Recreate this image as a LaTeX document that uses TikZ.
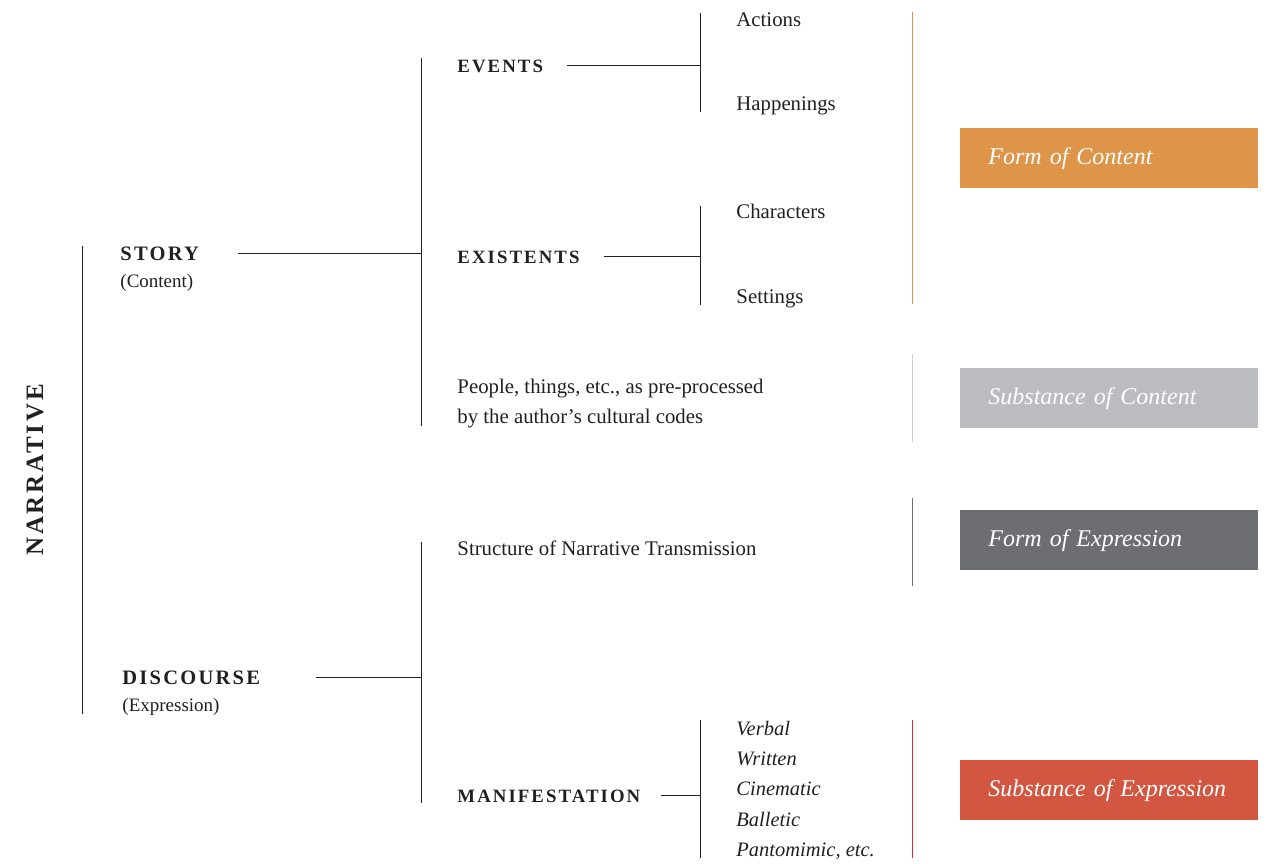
\documentclass[tikz,border=0pt]{standalone}
\usepackage{fontspec}
\setmainfont{Liberation Serif}
\newfontfamily\capsfont[LetterSpace=11]{Liberation Serif}

\definecolor{ink}{RGB}{35,31,32}
\definecolor{formcont}{RGB}{222,149,73}
\definecolor{substcont}{RGB}{187,188,191}
\definecolor{formexpr}{RGB}{109,110,113}
\definecolor{substexpr}{RGB}{211,86,65}
\definecolor{rulecont}{RGB}{224,144,64}
\definecolor{rulesubst}{RGB}{204,204,206}
\definecolor{ruleexpr}{RGB}{210,45,50}

\tikzset{
    txt/.style={anchor=base west, inner sep=0pt, text=ink, font=\fontsize{20.8}{30}\selectfont},
    itxt/.style={txt, font=\itshape\fontsize{20.5}{30}\selectfont},
    sub/.style={txt, font=\fontsize{19}{24}\selectfont},
    caps/.style={anchor=base west, inner sep=0pt, text=ink, font=\capsfont\bfseries\fontsize{18.8}{22}\selectfont},
    bigcaps/.style={caps, font=\capsfont\bfseries\fontsize{20.5}{24}\selectfont},
    plane/.style={anchor=north west, inner xsep=28pt, inner ysep=0pt, minimum height=60pt,
        text width=242pt, align=left, text=white, font=\itshape\fontsize{24}{28}\selectfont},
}

\begin{document}
\begin{tikzpicture}[x=1pt, y=-1pt, line width=0.9pt, draw=ink]
    \useasboundingbox (0,0) rectangle (1267,863);

    % left column
    \node [caps, font=\capsfont\bfseries\fontsize{25}{28}\selectfont, rotate=90, anchor=base] (narrative) at (43,470) {NARRATIVE};
    \coordinate (nt) at (82,246);
    \coordinate (nb) at (82,714);
    \draw (nt)--(nb);

    \node [bigcaps] (story) at (120,260) {STORY};
    \node [sub] (content) at (120,287) {(Content)};
    \node [bigcaps] (discourse) at (122,684) {DISCOURSE};
    \node [sub] (expression) at (122,711) {(Expression)};

    % story branch
    \coordinate (st) at (421,58);
    \coordinate (sb) at (421,426);
    \draw (st)--(sb);
    \draw (238,0 |- story.east)--(story.east -| st);

    \node [caps] (events) at (457,72) {EVENTS};
    \node [caps] (existents) at (457,263) {EXISTENTS};
    \node [txt] (people) at (457,393) {People, things, etc., as pre-processed};
    \node [txt] (codes) at (457,423) {by the author’s cultural codes};

    \coordinate (et) at (700,13);
    \coordinate (eb) at (700,112);
    \draw (et)--(eb);
    \draw (567,0 |- events.east)--(events.east -| et);
    \node [txt] (actions) at (736,26) {Actions};
    \node [txt] (happenings) at (736,110) {Happenings};

    \coordinate (xt) at (700,206);
    \coordinate (xb) at (700,305);
    \draw (xt)--(xb);
    \draw (604,0 |- existents.east)--(existents.east -| xt);
    \node [txt] (characters) at (736,218) {Characters};
    \node [txt] (settings) at (736,303) {Settings};

    % discourse branch
    \coordinate (dt) at (421,542);
    \coordinate (db) at (421,803);
    \draw (dt)--(db);
    \draw (316,0 |- discourse.east)--(discourse.east -| dt);

    \node [txt] (structure) at (457,555) {Structure of Narrative Transmission};
    \node [caps] (manif) at (457,802) {MANIFESTATION};

    \coordinate (mt) at (700,720);
    \coordinate (mb) at (700,858);
    \draw (mt)--(mb);
    \draw (661,0 |- manif.east)--(manif.east -| mt);
    \foreach \name/\word [count=\i from 0] in {verbal/Verbal, written/Written, cinematic/Cinematic, balletic/Balletic, panto/{Pantomimic, etc.}}
        \node [itxt] (\name) at (736,735+30.4*\i) {\word};

    % planes
    \draw [rulecont] (912,12)--(912,304);
    \draw [rulesubst] (912,354)--(912,442);
    \draw [formexpr] (912,498)--(912,586);
    \draw [ruleexpr] (912,720)--(912,858);

    \node [plane, fill=formcont] (formc) at (960,128) {Form of Content};
    \node [plane, fill=substcont] (substc) at (960,368) {Substance of Content};
    \node [plane, fill=formexpr] (forme) at (960,510) {Form of Expression};
    \node [plane, fill=substexpr] (subste) at (960,760) {Substance of Expression};
\end{tikzpicture}
\end{document}
